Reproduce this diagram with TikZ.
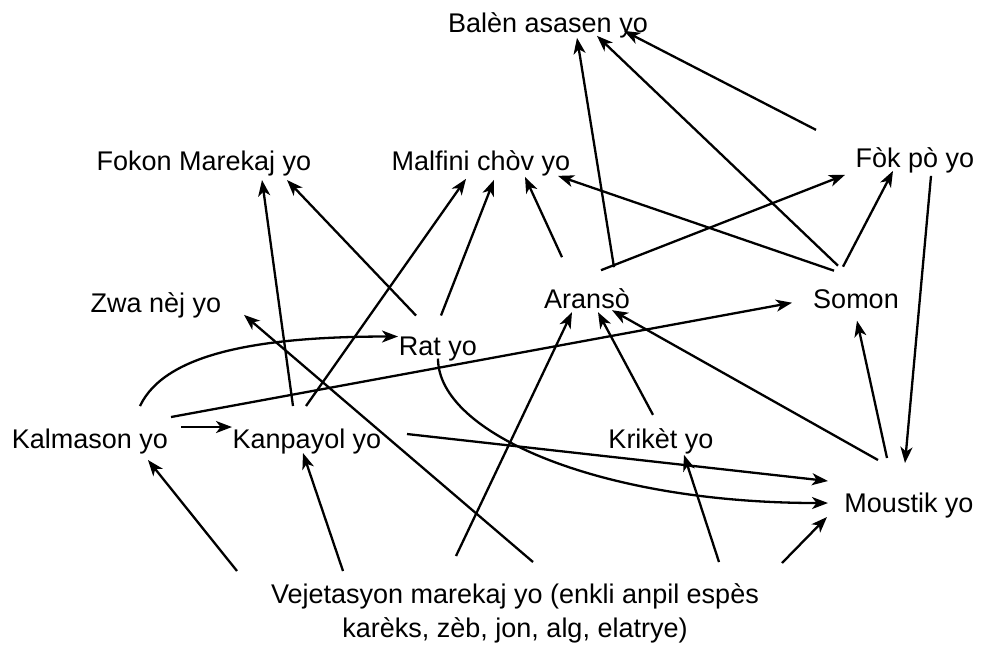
\documentclass[tikz,border=0pt]{standalone}
\usepackage{fontspec}
\setmainfont{Liberation Sans}
\usetikzlibrary{arrows.meta,calc}
\begin{document}
\begin{tikzpicture}[x=1pt,y=-1pt,
  lbl/.style={inner sep=0pt,anchor=base,font=\fontsize{27}{34}\selectfont},
  arr/.style={line width=2.3pt,-{Stealth[length=16pt,width=12pt,inset=4.5pt]}}]
\useasboundingbox (0,0) rectangle (985,646);
\node[lbl] (balen) at (548,32) {Balèn asasen yo};
\node[lbl] (fokon) at (204,170) {Fokon Marekaj yo};
\node[lbl] (malfini) at (481,170) {Malfini chòv yo};
\node[lbl] (fok) at (915,167) {Fòk pò yo};
\node[lbl] (zwa) at (156,312) {Zwa nèj yo};
\node[lbl] (aranso) at (587,308) {Aransò};
\node[lbl] (somon) at (856,308) {Somon};
\node[lbl] (rat) at (438,355) {Rat yo};
\node[lbl] (kalm) at (90,448) {Kalmason yo};
\node[lbl] (kanp) at (307,448) {Kanpayol yo};
\node[lbl] (krik) at (661,448) {Krikèt yo};
\node[lbl] (moust) at (909,512) {Moustik yo};
\node[lbl,anchor=center,align=center] (veg) at (515,613) {Vejetasyon marekaj yo (enkli anpil espès\\karèks, zèb, jon, alg, elatrye)};

\draw[arr] ($(aranso)+(27,-31)$) -- ($(balen)+(29,13)$);
\draw[arr] ($(somon)+(-18,-33)$) -- ($(balen)+(49,11)$);
\draw[arr] ($(fok)+(-99,-30)$) -- ($(balen)+(76,6)$);
\draw[arr] ($(aranso)+(14,-28)$) -- ($(fok)+(-70,15)$);
\draw[arr] ($(somon)+(-13,-32)$) -- ($(fok)+(-22,11)$);
\draw[arr] ($(somon)+(-22,-28)$) -- ($(malfini)+(77,13)$);
\draw[arr] ($(aranso)+(-25,-41)$) -- ($(malfini)+(44,14)$);
\draw[arr] ($(fok)+(16,16)$) -- ($(moust)+(-4,-42)$);
\draw[arr] ($(rat)+(-22,-33)$) -- ($(fokon)+(83,17)$);
\draw[arr] ($(kanp)+(-14,-35)$) -- ($(fokon)+(58,17)$);
\draw[arr] ($(kanp)+(-1,-35)$) -- ($(malfini)+(-15,16)$);
\draw[arr] ($(rat)+(3,-33)$) -- ($(malfini)+(13,17)$);
\draw[arr] ($(kalm)+(50,-35)$) .. controls ($(kalm)+(75,-88)$) and ($(rat)+(-178,-12)$) .. ($(rat)+(-40,-12)$);
\draw[arr] ($(kalm)+(81,-24)$) -- ($(somon)+(-64,4)$);
\draw[arr] ($(kalm)+(91,-14)$) -- ($(kanp)+(-75,-14)$);
\draw[arr] ($(kanp)+(100,-7)$) -- ($(moust)+(-81,-24)$);
\draw[arr] ($(rat)+(0,10)$) .. controls ($(rat)+(0,85)$) and ($(moust)+(-309,-2)$) .. ($(moust)+(-81,-2)$);
\draw[arr] ($(moust)+(-31,-45)$) -- ($(aranso)+(25,12)$);
\draw[arr] ($(moust)+(-22,-47)$) -- ($(somon)+(1,22)$);
\draw[arr] ($(krik)+(-8,-26)$) -- ($(aranso)+(11,14)$);
\draw[arr] ($(veg)+(-278,-42)$) -- ($(kalm)+(58,19)$);
\draw[arr] ($(veg)+(-172,-42)$) -- ($(kanp)+(-4,12)$);
\draw[arr] ($(veg)+(18,-51)$) -- ($(zwa)+(88,10)$);
\draw[arr] ($(veg)+(-59,-57)$) -- ($(aranso)+(-15,14)$);
\draw[arr] ($(veg)+(204,-51)$) -- ($(krik)+(23,14)$);
\draw[arr] ($(veg)+(267,-50)$) -- ($(moust)+(-82,12)$);
\end{tikzpicture}
\end{document}
